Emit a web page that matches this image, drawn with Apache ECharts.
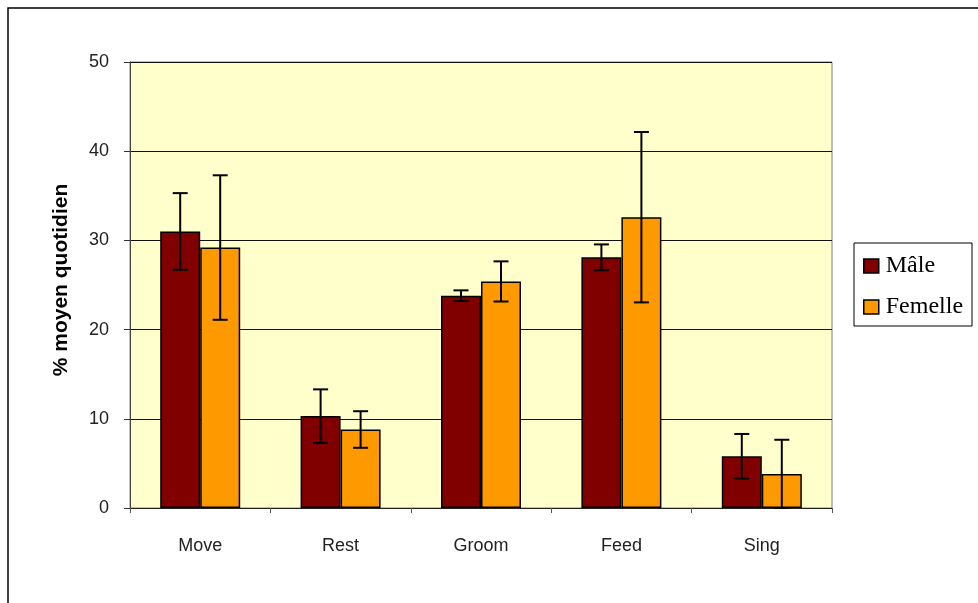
<!DOCTYPE html>
<html>
<head>
<meta charset="utf-8">
<script src="https://cdn.jsdelivr.net/npm/echarts@6/dist/echarts.min.js"></script>
<style>
html,body{margin:0;padding:0;background:#fff;}
#chart{width:978px;height:603px;}
</style>
</head>
<body>
<div id="chart"></div>
<script>
const categories = ['Move', 'Rest', 'Groom', 'Feed', 'Sing'];
const maleValues = [31.0, 10.3, 23.8, 28.1, 5.8];
const maleErrors = [4.3, 3.0, 0.6, 1.45, 2.5];
const femaleValues = [29.2, 8.8, 25.4, 32.6, 3.8];
const femaleErrors = [8.1, 2.05, 2.25, 9.55, 3.85];
const yTicks = [0, 10, 20, 30, 40, 50];

const BAR_W = 40;
const SANS = "'Liberation Sans', Arial, sans-serif";

function errData(vals, errs) {
  return vals.map((v, i) => [i, Math.max(0, v - errs[i]), v + errs[i]]);
}

function makeErr(offset) {
  return function (params, api) {
    const i = api.value(0);
    const lo = api.coord([i, api.value(1)]);
    const hi = api.coord([i, api.value(2)]);
    const x = lo[0] + offset;
    const cap = 7.5;
    const style = { stroke: '#000', lineWidth: 2 };
    return {
      type: 'group',
      children: [
        { type: 'line', shape: { x1: x, y1: hi[1], x2: x, y2: lo[1] }, style: style },
        { type: 'line', shape: { x1: x - cap, y1: hi[1], x2: x + cap, y2: hi[1] }, style: style },
        { type: 'line', shape: { x1: x - cap, y1: lo[1], x2: x + cap, y2: lo[1] }, style: style }
      ]
    };
  };
}

const chart = echarts.init(document.getElementById('chart'), null, { renderer: 'canvas' });
chart.setOption({
  animation: false,
  backgroundColor: '#fff',
  grid: {
    left: 130, right: 146, top: 62, bottom: 95,
    show: true, backgroundColor: '#FFFFCC', borderColor: '#808080', borderWidth: 1
  },
  graphic: [
    { type: 'rect', shape: { x: 8, y: 8, width: 1200, height: 800 }, style: { fill: 'none', stroke: '#000', lineWidth: 1.5 }, silent: true, z: 100 },
    { type: 'rect', shape: { x: 854, y: 243, width: 118, height: 83 }, style: { fill: '#fff', stroke: '#000', lineWidth: 1 }, z: 1 }
  ],
  legend: {
    show: true,
    orient: 'vertical',
    left: 858, top: 249,
    itemWidth: 15, itemHeight: 14, itemGap: 17,
    icon: 'rect',
    textStyle: { fontFamily: 'Liberation Serif', fontSize: 24, color: '#000', padding: [0, 0, 0, 2] },
    data: [
      { name: 'Mâle', itemStyle: { color: '#800000', borderColor: '#000', borderWidth: 1.5 } },
      { name: 'Femelle', itemStyle: { color: '#FF9900', borderColor: '#000', borderWidth: 1.5 } }
    ],
    z: 5
  },
  xAxis: {
    type: 'category',
    data: categories,
    axisLine: { lineStyle: { color: '#222', width: 1 } },
    axisTick: { show: true, alignWithLabel: false, length: 5, lineStyle: { color: '#555' } },
    axisLabel: { fontFamily: SANS, fontSize: 18, color: '#222', margin: 29 },
    splitLine: { show: false }
  },
  yAxis: {
    type: 'value',
    min: 0, max: 50, interval: 10,
    name: '% moyen quotidien',
    nameLocation: 'middle',
    nameGap: 58,
    nameTextStyle: { fontFamily: SANS, fontSize: 21, fontWeight: 'bold', color: '#000', padding: [0, 0, 0, 10] },
    axisLine: { show: true, lineStyle: { color: '#444', width: 1 } },
    axisTick: { show: true, length: 6, inside: false, lineStyle: { color: '#333' } },
    axisLabel: {
      fontFamily: SANS, fontSize: 18, color: '#222', margin: 21,
      formatter: v => (yTicks.includes(v) ? String(v) : '')
    },
    splitLine: { show: true, lineStyle: { color: '#111', width: 1 } }
  },
  series: [
    {
      name: 'Mâle', type: 'bar', data: maleValues, barWidth: BAR_W, barGap: '0%',
      itemStyle: { color: '#800000', borderColor: '#000', borderWidth: 1.5 }, z: 2
    },
    {
      name: 'Femelle', type: 'bar', data: femaleValues, barWidth: BAR_W, barGap: '0%',
      itemStyle: { color: '#FF9900', borderColor: '#000', borderWidth: 1.5 }, z: 2
    },
    {
      name: 'errM', type: 'custom', renderItem: makeErr(-BAR_W / 2),
      data: errData(maleValues, maleErrors), encode: { x: 0, y: [1, 2] }, z: 10, clip: false
    },
    {
      name: 'errF', type: 'custom', renderItem: makeErr(BAR_W / 2),
      data: errData(femaleValues, femaleErrors), encode: { x: 0, y: [1, 2] }, z: 10, clip: false
    }
  ]
});
</script>
</body>
</html>
